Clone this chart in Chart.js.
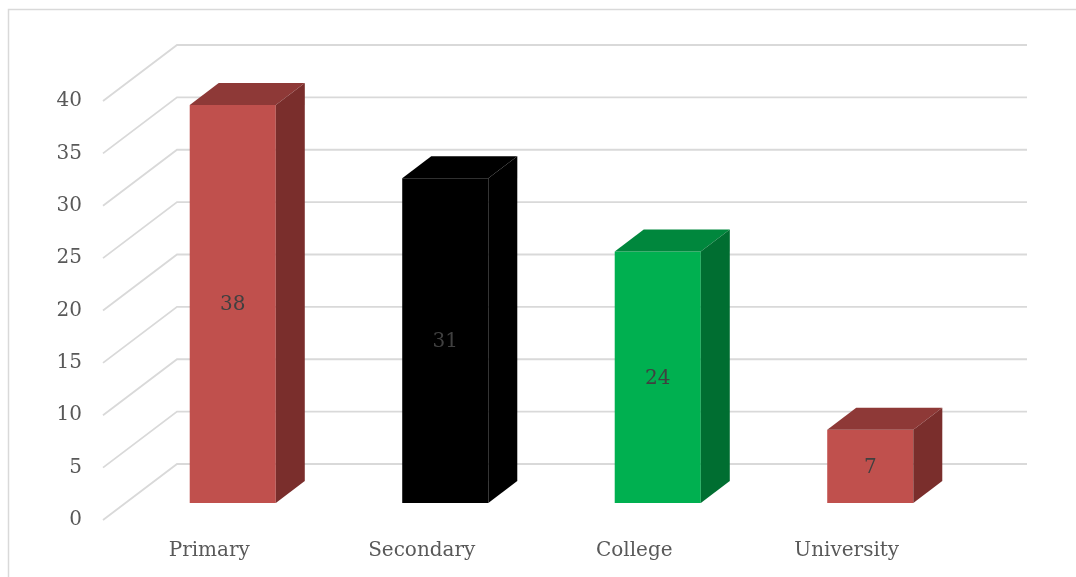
<!DOCTYPE html>
<html><head><meta charset="utf-8">
<script src="https://cdn.jsdelivr.net/npm/chart.js@4"></script>
<style>html,body{margin:0;padding:0;background:#fff}canvas{display:block}</style>
</head><body>
<canvas id="c" width="1076" height="577"></canvas>
<script>
const categories = ['Primary', 'Secondary', 'College', 'University'];
const values = [38, 31, 24, 7];
const yTicks = [0, 5, 10, 15, 20, 25, 30, 35, 40];
const frontColors = ['#C0504D', '#000000', '#00B050', '#C0504D'];
const topColors = ['#8E3937', '#000000', '#00873D', '#8E3937'];
const sideColors = ['#7A2E2C', '#000000', '#006E31', '#7A2E2C'];

const FONT = "'DejaVu Serif', serif";
const WALL = {dx: 74, dy: -56};
const FRONT = {dx: 23.5, dy: -17};
const DEPTH = {dx: 29, dy: -22};
const GRID = '#d9d9d9';

const wallPlugin = {
  id: 'wall',
  beforeDatasetsDraw(chart) {
    const ctx = chart.ctx, y = chart.scales.y, a = chart.chartArea;
    ctx.save();
    ctx.strokeStyle = GRID; ctx.lineWidth = 1.8;
    y.ticks.forEach(t => {
      const py = y.getPixelForValue(t.value);
      ctx.beginPath();
      ctx.moveTo(a.left, py);
      ctx.lineTo(a.left + WALL.dx, py + WALL.dy);
      ctx.lineTo(a.right + WALL.dx, py + WALL.dy);
      ctx.stroke();
    });
    ctx.restore();
  }
};

const barsPlugin = {
  id: 'bars3d',
  beforeDatasetsDraw(chart) { chart.ctx.save(); chart.ctx.translate(FRONT.dx, FRONT.dy); },
  afterDatasetsDraw(chart) {
    const ctx = chart.ctx;
    const meta = chart.getDatasetMeta(0);
    meta.data.forEach((bar, i) => {
      const {x, y, base, width} = bar.getProps(['x', 'y', 'base', 'width'], true);
      const l = x - width / 2, r = x + width / 2;
      ctx.fillStyle = topColors[i];
      ctx.beginPath();
      ctx.moveTo(l, y); ctx.lineTo(l + DEPTH.dx, y + DEPTH.dy);
      ctx.lineTo(r + DEPTH.dx, y + DEPTH.dy); ctx.lineTo(r, y);
      ctx.closePath(); ctx.fill();
      ctx.fillStyle = sideColors[i];
      ctx.beginPath();
      ctx.moveTo(r, y); ctx.lineTo(r + DEPTH.dx, y + DEPTH.dy);
      ctx.lineTo(r + DEPTH.dx, base + DEPTH.dy); ctx.lineTo(r, base);
      ctx.closePath(); ctx.fill();
      ctx.fillStyle = '#404040';
      ctx.font = '20px ' + FONT;
      ctx.textAlign = 'center'; ctx.textBaseline = 'middle';
      ctx.fillText(String(values[i]), x, (y + base) / 2 + 1);
    });
    ctx.restore();
  }
};

const borderPlugin = {
  id: 'frame',
  afterDraw(chart) {
    const ctx = chart.ctx;
    ctx.save();
    ctx.strokeStyle = '#d9d9d9'; ctx.lineWidth = 1.5;
    ctx.beginPath();
    ctx.moveTo(8.5, 577); ctx.lineTo(8.5, 9.5); ctx.lineTo(1076, 9.5);
    ctx.stroke();
    ctx.restore();
  }
};

new Chart(document.getElementById('c'), {
  type: 'bar',
  data: {
    labels: categories,
    datasets: [{
      data: values,
      backgroundColor: frontColors,
      borderWidth: 0,
      barPercentage: 0.405,
      categoryPercentage: 1.0
    }]
  },
  options: {
    responsive: false,
    animation: false,
    devicePixelRatio: 1,
    layout: {padding: {left: 43, right: 123, top: 101, bottom: 17}},
    plugins: {legend: {display: false}, tooltip: {enabled: false}},
    scales: {
      x: {
        grid: {display: false, drawTicks: false},
        border: {display: false},
        ticks: {color: '#595959', font: {family: FONT, size: 20}, padding: 19},
        afterFit(s) { s.height = 40; }
      },
      y: {
        min: 0, max: 40,
        grid: {display: false, drawTicks: false},
        border: {display: false},
        ticks: {color: '#595959', font: {family: FONT, size: 20}, padding: 21},
        afterBuildTicks(s) { s.ticks = yTicks.map(v => ({value: v})); },
        afterFit(s) { s.width = 60; }
      }
    }
  },
  plugins: [wallPlugin, barsPlugin, borderPlugin]
});
</script>
</body></html>
